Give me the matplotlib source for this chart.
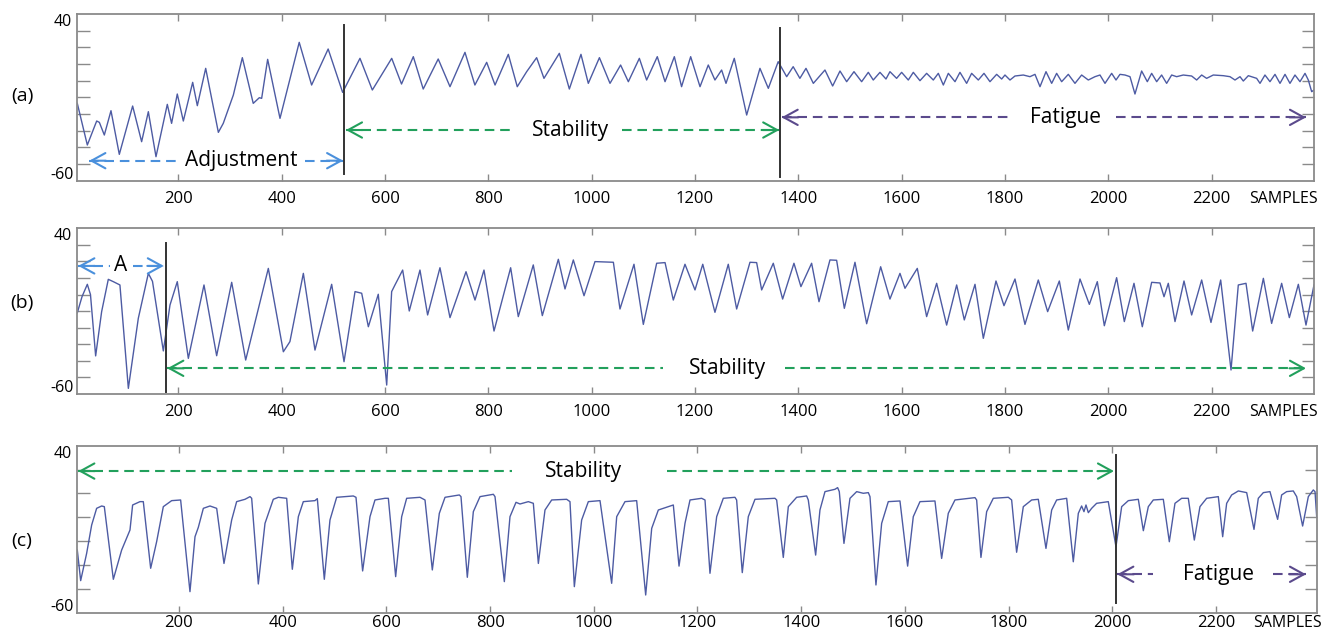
import matplotlib
matplotlib.use("Agg")
import matplotlib.pyplot as plt

plt.rcParams['font.family'] = ['Open Sans', 'DejaVu Sans']

# ---------------- data ----------------
a_x = [4.5, 23.9, 42.0, 47.2, 56.8, 69.7, 85.8, 111.6, 129.0, 142.0, 156.8, 178.7, 187.0, 198.0, 209.7,
       227.8, 236.8, 253.0, 277.5, 287.0, 306.5, 323.9, 345.0, 356.8, 361.3, 372.9, 396.8, 434.0, 458.0,
       490.0, 518.0, 551.6, 575.5, 613.0, 632.0, 654.8, 674.0, 703.0, 725.8, 754.8, 774.0, 796.8, 813.0,
       838.7, 856.0, 874.2, 893.5, 907.7, 937.4, 956.8, 979.3, 993.5, 1015.0, 1035.5, 1056.0, 1071.0,
       1092.3, 1106.4, 1127.0, 1142.0, 1160.0, 1174.0, 1191.6, 1209.7, 1225.7, 1238.6, 1251.5, 1260.0,
       1276.0, 1300.0, 1325.7, 1341.9, 1361.0, 1377.4, 1390.0, 1403.0, 1414.8, 1429.0, 1451.5, 1466.4,
       1480.6, 1493.5, 1507.7, 1522.5, 1535.4, 1545.0, 1558.0, 1569.6, 1577.3, 1590.2, 1599.9, 1612.8,
       1622.5, 1635.4, 1648.3, 1661.2, 1670.9, 1680.6, 1690.3, 1703.2, 1712.8, 1725.7, 1735.4, 1748.3,
       1759.3, 1770.9, 1783.8, 1793.5, 1799.9, 1809.6, 1819.3, 1835.4, 1848.3, 1858.0, 1867.7, 1879.3,
       1890.3, 1899.9, 1909.6, 1922.5, 1935.4, 1948.3, 1961.2, 1974.1, 1983.8, 1993.5, 2006.4, 2014.8,
       2022.5, 2032.2, 2041.9, 2051.5, 2064.4, 2075.4, 2083.8, 2093.5, 2103.1, 2112.8, 2122.5, 2132.2,
       2145.0, 2161.2, 2170.9, 2180.6, 2190.2, 2203.1, 2222.5, 2235.4, 2245.1, 2254.8, 2261.2, 2270.9,
       2287.0, 2293.5, 2303.1, 2312.8, 2322.5, 2332.2, 2341.9, 2351.5, 2361.2, 2370.9, 2380.6, 2387.0,
       2393.5, 2398.0]
a_y = [-13.6, -38.6, -24.2, -25.0, -32.6, -18.0, -44.2, -15.2, -36.6, -18.6, -45.6, -14.2, -25.6, -8.0, -24.2,
       -1.0, -15.0, 7.4, -31.0, -25.6, -8.6, 13.8, -13.6, -10.2, -10.6, 12.8, -22.6, 23.0, -2.6,
       19.0, -7.0, 13.4, -5.6, 13.4, -2.0, 14.4, -5.0, 13.0, -3.6, 17.0, -2.6, 11.0, -2.6,
       15.8, -3.6, 5.4, 13.8, 1.4, 16.4, -5.0, 15.8, -1.6, 13.8, -1.6, 9.4, -0.6,
       13.4, 0.4, 14.4, -0.6, 14.4, -3.6, 14.4, -3.6, 9.4, 0.4, 6.4, -1.6,
       13.4, -20.6, 7.4, -4.6, 11.4, 2.4, 8.4, 1.4, 7.4, -1.6, 6.4, -3.2,
       5.8, -0.6, 5.4, -0.6, 5.0, 0.4, 5.0, 1.0, 5.4, 1.4, 5.0, 0.4,
       5.0, 0.0, 4.4, 0.4, 4.4, -2.6, 4.4, -0.6, 5.0, -1.6, 4.4, 0.4,
       4.4, -0.6, 3.8, 1.0, 3.4, 0.4, 2.8, 3.4, 2.4, 3.8, -3.6, 5.4,
       -1.6, 4.4, -0.6, 3.8, -1.6, 3.4, 0.4, 2.4, 3.4, -1.6, 4.4, 0.4,
       3.8, 3.4, 2.4, -8.0, 5.8, -0.6, 4.4, -0.6, 3.4, -1.6, 3.4, 2.4,
       3.4, 2.8, 0.4, 3.4, 1.4, 3.4, 3.0, 2.4, 0.4, 2.4, -0.2, 3.0,
       1.4, -1.6, 3.4, -0.6, 3.8, -1.6, 3.8, -1.6, 3.4, -0.6, 4.4, 0.4,
       -6.6, -5.6]

b_x = [4.5, 13.6, 23.9, 30.0, 40.0, 51.6, 64.5, 74.2, 87.0, 103.3, 122.6, 142.0, 150.0, 171.0, 183.9,
       198.0, 219.4, 249.7, 274.2, 303.3, 330.4, 374.2, 403.3, 416.0, 442.0, 464.5, 496.8, 520.7, 542.0,
       554.9, 567.8, 587.0, 603.3, 612.9, 619.3, 634.2, 647.0, 667.7, 682.5, 706.4, 725.8, 756.8, 774.2,
       791.6, 811.0, 843.2, 858.0, 887.0, 904.5, 935.5, 948.4, 964.5, 985.2, 1006.4, 1042.0, 1054.8,
       1081.9, 1100.0, 1125.8, 1142.0, 1158.0, 1180.6, 1200.0, 1215.0, 1238.6, 1264.4, 1280.6, 1306.4,
       1319.3, 1329.0, 1351.5, 1369.6, 1391.5, 1405.0, 1425.7, 1440.0, 1461.2, 1474.1, 1489.0, 1509.6,
       1532.2, 1559.3, 1577.3, 1596.7, 1606.4, 1630.2, 1648.3, 1667.7, 1687.0, 1706.4, 1721.2, 1741.9,
       1758.0, 1782.5, 1798.0, 1819.3, 1838.6, 1864.4, 1882.5, 1905.1, 1922.5, 1945.1, 1963.2, 1978.6,
       1992.2, 2016.0, 2030.9, 2049.6, 2065.7, 2083.8, 2099.9, 2107.7, 2116.0, 2129.0, 2146.4, 2161.2,
       2180.6, 2198.6, 2217.4, 2237.4, 2251.5, 2266.4, 2279.3, 2300.0, 2316.0, 2335.4, 2350.3, 2367.7,
       2382.5, 2398.0]
b_y = [-11.0, -1.3, 6.2, 0.0, -37.0, -10.3, 9.2, 7.8, 5.8, -56.6, -14.3, 12.8, 8.0, -34.0, -6.3,
       7.8, -38.5, 5.8, -36.9, 7.4, -39.5, 15.8, -34.5, -28.4, 12.8, -33.5, 6.2, -40.5, 1.8,
       0.8, -19.4, 0.2, -54.6, 1.8, 5.8, 14.8, -9.9, 14.8, -12.3, 16.2, -13.9, 13.8, -3.3,
       14.8, -22.0, 16.2, -13.3, 17.9, -12.7, 21.3, 3.4, 20.9, -0.7, 19.9, 19.5, -8.7,
       18.3, -18.0, 18.9, 19.3, -3.3, 18.3, 2.8, 18.3, -10.7, 18.3, -8.7, 19.5,
       19.3, 2.8, 18.9, -2.7, 18.9, 4.8, 18.9, -4.3, 20.9, 20.7, -8.3, 19.5,
       -17.6, 16.8, -2.7, 12.8, 3.8, 15.8, -13.3, 6.8, -18.4, 5.8, -15.3, 6.2,
       -26.4, 8.2, -6.7, 9.4, -18.0, 8.8, -10.3, 8.2, -21.4, 9.4, -5.9, 7.8,
       -18.8, 10.2, -16.3, 6.8, -19.4, 7.4, 7.0, -1.3, 6.8, -16.3, 8.2, -12.3,
       8.8, -16.8, 8.8, -45.5, 5.8, 6.8, -22.0, 9.8, -17.4, 6.8, -13.9, 6.2,
       -18.4, 5.8]

c_x = [3.9, 10.4, 21.9, 31.6, 41.2, 50.9, 56.0, 73.4, 89.4, 105.5, 110.6, 124.8, 131.2, 145.4, 156.9,
       169.8, 185.9, 203.2, 221.2, 230.9, 237.3, 247.0, 259.8, 272.7, 286.8, 301.6, 311.2, 327.3, 337.0,
       340.2, 353.0, 365.9, 381.9, 391.6, 407.7, 418.6, 430.2, 439.8, 462.3, 466.8, 480.3, 491.2, 504.1,
       536.2, 541.4, 554.2, 568.4, 578.0, 597.3, 603.8, 617.9, 629.5, 639.1, 664.8, 674.5, 688.6, 702.1,
       713.1, 740.7, 743.9, 756.1, 767.7, 780.6, 806.3, 809.5, 827.5, 838.4, 850.0, 857.7, 873.8, 883.4,
       893.1, 905.9, 918.8, 947.7, 954.1, 962.5, 976.6, 989.5, 1012.0, 1034.5, 1044.2, 1060.2, 1082.7,
       1100.1, 1111.7, 1124.5, 1143.8, 1153.4, 1164.4, 1175.9, 1185.6, 1208.0, 1214.5, 1224.1, 1237.0,
       1249.8, 1272.3, 1275.5, 1286.4, 1298.0, 1310.9, 1349.4, 1352.7, 1365.5, 1375.2, 1391.2, 1410.5,
       1413.7, 1427.9, 1436.2, 1445.9, 1465.2, 1470.3, 1473.5, 1482.5, 1494.1, 1507.0, 1519.8, 1529.5,
       1532.7, 1544.2, 1555.2, 1568.0, 1590.5, 1605.3, 1616.2, 1629.1, 1658.0, 1670.9, 1683.7, 1696.6,
       1735.2, 1738.4, 1746.7, 1757.7, 1770.5, 1799.5, 1805.9, 1815.5, 1828.4, 1844.5, 1857.3, 1872.1,
       1883.1, 1892.7, 1912.0, 1924.8, 1934.5, 1940.9, 1945.4, 1949.3, 1953.8, 1960.2, 1969.8, 1992.3,
       2007.1, 2018.1, 2030.9, 2050.2, 2059.9, 2069.5, 2079.1, 2098.4, 2110.0, 2120.9, 2133.8, 2146.6,
       2158.2, 2169.1, 2182.0, 2204.5, 2212.9, 2220.6, 2230.2, 2243.1, 2259.2, 2273.3, 2281.6, 2291.3,
       2304.1, 2318.9, 2326.6, 2336.3, 2349.1, 2355.6, 2367.1, 2378.1, 2387.7, 2391.0, 2394.2]
c_y = [-22.5, -40.8, -24.5, -7.5, 2.5, 3.9, 3.5, -40.0, -22.5, -10.5, 4.5, 6.5, 6.5, -33.4, -17.5,
       3.5, 7.1, 7.5, -47.4, -14.5, -8.9, 2.5, 3.9, 2.5, -30.5, -4.5, 6.5, 7.9, 9.5,
       8.5, -42.8, -6.5, 7.9, 9.1, 8.5, -34.0, -2.5, 6.5, 7.1, 8.3, -40.0, -4.5, 9.1,
       9.9, 9.1, -35.0, -2.5, 7.5, 8.5, 8.5, -38.4, -2.5, 8.5, 9.1, 7.5, -34.4, -0.5,
       9.1, 10.5, 9.5, -38.8, 0.5, 9.5, 10.9, 9.5, -41.4, -2.5, 6.1, 5.1, 6.5, 5.5,
       -30.5, 1.5, 7.5, 7.9, 6.5, -44.4, -4.5, 6.5, 7.1, -42.4, -2.5, 6.5, 7.1,
       -49.4, -9.5, 1.5, 3.5, 4.5, -32.1, -6.5, 7.5, 8.5, 7.5, -36.4, -2.5,
       8.5, 9.1, 7.5, -36.0, -2.5, 7.9, 8.5, 7.5, -26.9, 3.5, 9.1, 9.9,
       7.5, -25.5, 1.5, 12.5, 13.9, 14.9, 12.5, -18.5, 8.5, 12.5, 11.5, 11.9,
       9.5, -43.4, -6.5, 6.5, 6.9, -32.1, -2.5, 6.5, 6.9, -27.5, -0.5, 7.5,
       8.9, 7.5, -26.9, 0.5, 8.5, 9.1, 7.5, -23.8, 3.5, 7.5, 7.9, -21.5,
       1.5, 7.5, 8.5, -29.5, -0.5, 3.9, 0.5, 4.5, -0.1, 2.5, 5.5, 6.5,
       -20.5, 3.5, 7.1, 7.9, -10.9, 3.5, 7.5, 7.9, -17.5, 5.5, 8.5, 8.5,
       -16.5, 3.5, 8.5, 9.5, -14.5, 5.5, 10.5, 12.9, 11.9, -10.1, 8.5, 11.9,
       12.5, -4.1, 10.5, 12.5, 12.9, 9.5, -8.1, 9.5, 13.5, 12.5, -2.5]

x_ticks = [200, 400, 600, 800, 1000, 1200, 1400, 1600, 1800, 2000, 2200]
x_tick_labels = [str(t) for t in x_ticks]
y_top_label = "40"
y_bottom_label = "-60"
panel_labels = ["(a)", "(b)", "(c)"]
axis_word = "SAMPLES"

# phase boundaries (sample index) per panel
a_bounds = [520.7, 1364.4]
b_bounds = [176.1]
c_bounds = [2007.1]

# ---------------- layout / style ----------------
W, H = 1333, 637
fig = plt.figure(figsize=(W / 100, H / 100), dpi=100)

SIG = '#4d5ba3'
BLUE = '#4a90dc'
GREEN = '#22a05c'
PURPLE = '#5b4a8c'
SPINE = '#8a8a8a'


def add_ax(left, top, right, bottom):
    return fig.add_axes([left / W, 1 - bottom / H, (right - left) / W, (bottom - top) / H])


def style(ax, xlim, yticks, pad):
    ax.set_xlim(*xlim)
    ax.set_ylim(-60, 40)
    ax.set_xticks(x_ticks)
    ax.set_xticklabels(x_tick_labels)
    ax.set_yticks(yticks)
    ax.tick_params(axis='both', direction='in', top=True, right=True, colors=SPINE,
                   labelcolor='black', labelleft=False, width=1.0)
    ax.tick_params(axis='x', length=5, labelsize=12, pad=pad)
    ax.tick_params(axis='y', length=9)
    for sp in ax.spines.values():
        sp.set_color(SPINE)
        sp.set_linewidth(1.3)
    ax.annotate(y_top_label, xy=(0, 1), xycoords='axes fraction', xytext=(-5, -8),
                textcoords='offset pixels', ha='right', va='center', fontsize=11.5)
    ax.annotate(y_bottom_label, xy=(0, 0), xycoords='axes fraction', xytext=(-4, 6),
                textcoords='offset pixels', ha='right', va='center', fontsize=11.5)
    ax.annotate(axis_word, xy=(1, 0), xycoords='axes fraction', xytext=(3, -pad),
                textcoords='offset points', ha='right', va='top', fontsize=11.5)


def vline(ax, x, y0, y1):
    ax.plot([x, x], [y0, y1], color='#333333', lw=1.4, zorder=3)


def head(ax, tip, y, direction, color):
    d = 32 * direction
    ax.annotate('', xy=(tip, y), xytext=(tip - d, y),
                arrowprops=dict(arrowstyle='->,head_length=1.0,head_width=0.55', color=color,
                                lw=1.5, shrinkA=0, shrinkB=0, mutation_scale=10))


def phase(ax, y, tip_l, dash_l_end, text, text_x, dash_r_start, tip_r, color):
    ls = (0, (4.6, 2.8))
    ax.plot([tip_l, dash_l_end], [y, y], color=color, lw=1.5, ls=ls)
    ax.plot([dash_r_start, tip_r], [y, y], color=color, lw=1.5, ls=ls)
    head(ax, tip_l, y, -1, color)
    head(ax, tip_r, y, 1, color)
    ax.text(text_x, y, text, ha='center', va='center', fontsize=15, color='black')


ax_a = add_ax(77.3, 14.0, 1314.0, 180.7)
ax_b = add_ax(77.3, 228.3, 1314.0, 394.0)
ax_c = add_ax(77.3, 445.7, 1317.3, 612.7)

ten_ticks = [-50, -40, -30, -20, -10, 0, 10, 20, 30]
seventh_ticks = [40 - 100 * k / 7 for k in range(1, 7)]

style(ax_a, (4.5, 2398), ten_ticks, 7.5)
style(ax_b, (4.5, 2398), ten_ticks, 7.5)
style(ax_c, (3.9, 2395.4), seventh_ticks, 1.5)

ax_a.plot(a_x, a_y, color=SIG, lw=1.0, solid_joinstyle='round')
ax_b.plot(b_x, b_y, color=SIG, lw=1.0, solid_joinstyle='round')
ax_c.plot(c_x, c_y, color=SIG, lw=1.0, solid_joinstyle='round')

vline(ax_a, a_bounds[0], -56.2, 33.4)
vline(ax_a, a_bounds[1], -57.6, 31.4)
vline(ax_b, b_bounds[0], -58.6, 30.9)
vline(ax_c, c_bounds[0], -54.4, 34.4)

phase(ax_a, -48.0, 27.8, 196.8, 'Adjustment', 321, 445, 519, BLUE)
phase(ax_a, -29.6, 524.5, 845, 'Stability', 958.6, 1058, 1363, GREEN)
phase(ax_a, -22.0, 1367.7, 1816, 'Fatigue', 1917.3, 2015, 2382.5, PURPLE)

phase(ax_b, 17.3, 6.5, 67.8, 'A', 89, 113, 172, BLUE)
phase(ax_b, -44.5, 178.7, 1138.7, 'Stability', 1262, 1374, 2382.5, GREEN)

phase(ax_c, 24.8, 5.9, 841.6, 'Stability', 981, 1140.6, 2003.3, GREEN)
phase(ax_c, -37.0, 2009.7, 2079.1, 'Fatigue', 2205, 2310.6, 2373.6, PURPLE)

for lab, yc in zip(panel_labels, [96, 303, 541]):
    fig.text(22 / W, 1 - yc / H, lab, ha='center', va='center', fontsize=14)

fig.savefig('out.png', dpi=100)
